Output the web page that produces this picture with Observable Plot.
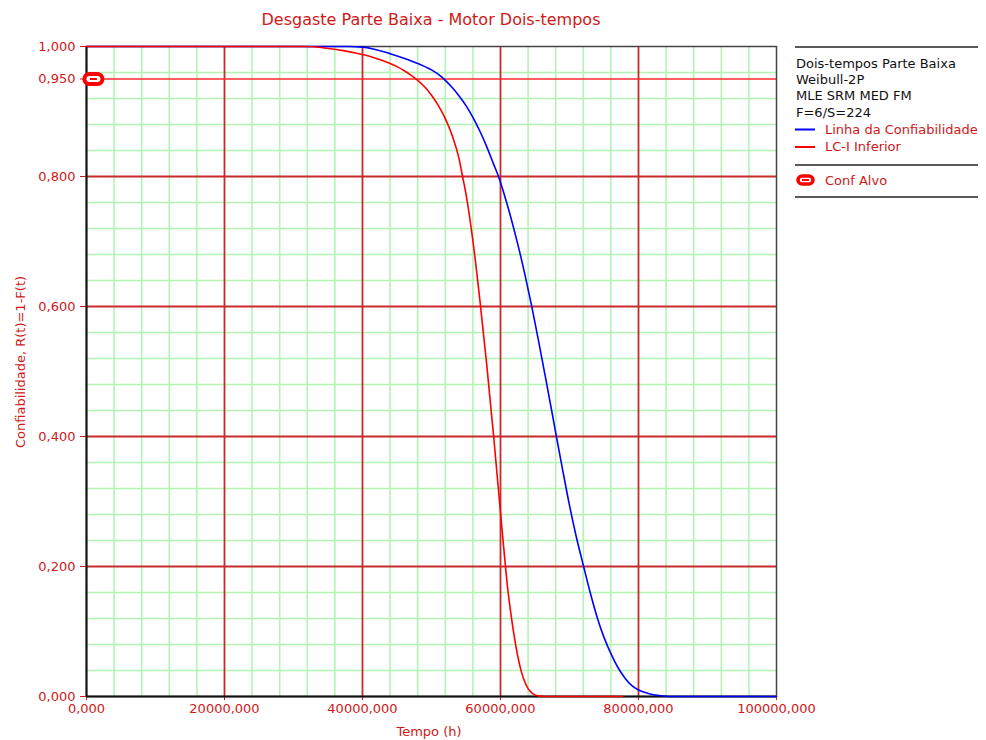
<!DOCTYPE html>
<html><head><meta charset="utf-8">
<script src="https://cdn.jsdelivr.net/npm/d3@7"></script>
<script src="https://cdn.jsdelivr.net/npm/@observablehq/plot@0.6"></script>
<style>
body{margin:0;background:#fff;}
#wrap{position:relative;width:986px;height:740px;font-family:"DejaVu Sans",sans-serif;}
#wrap svg{position:absolute;left:0;top:0;}
#overlay{pointer-events:none;}
</style></head><body><div id="wrap"></div>
<script>
// ---- data ----
const chartTitle = "Desgaste Parte Baixa - Motor Dois-tempos";
const xLabel = "Tempo (h)";
const yLabel = "Confiabilidade, R(t)=1-F(t)";
const legendInfo = ["Dois-tempos Parte Baixa", "Weibull-2P", "MLE SRM MED FM", "F=6/S=224"];
const seriesNames = ["Linha da Confiabilidade", "LC-I Inferior", "Conf Alvo"];

const xTicks = [0, 20000, 40000, 60000, 80000, 100000];
const yTicks = [0, 0.2, 0.4, 0.6, 0.8, 1.0, 0.95];
const xMajor = [20000, 40000, 60000, 80000];
const yMajor = [0.2, 0.4, 0.6, 0.8];
const xMinor = [4000, 8000, 12000, 16000, 24000, 28000, 32000, 36000, 44000, 48000, 52000, 56000,
  64000, 68000, 72000, 76000, 84000, 88000, 92000, 96000];
const yMinor = [0.04, 0.08, 0.12, 0.16, 0.24, 0.28, 0.32, 0.36, 0.44, 0.48, 0.52, 0.56,
  0.64, 0.68, 0.72, 0.76, 0.84, 0.88, 0.92, 0.96];

// Linha da Confiabilidade (blue)
const blueTime = [0, 38000, 40000, 42000, 44000, 46000, 48000, 50000, 51000, 52000, 53000, 54000,
  55000, 56000, 57000, 58000, 59000, 59710, 60500, 61500, 62500, 63500, 64490, 65500, 66500, 67500,
  68100, 69000, 70000, 71000, 72000, 73000, 74000, 75000, 76000, 77000, 78000, 79000, 80000, 81000,
  82000, 83000, 84500, 100000];
const blueRel = [1, 1, 0.999, 0.995, 0.989, 0.982, 0.974, 0.964, 0.957, 0.948, 0.937, 0.924,
  0.909, 0.891, 0.870, 0.846, 0.819, 0.800, 0.774, 0.737, 0.696, 0.651, 0.602, 0.548, 0.492, 0.435,
  0.400, 0.349, 0.294, 0.245, 0.202, 0.160, 0.122, 0.091, 0.066, 0.045, 0.029, 0.017, 0.010, 0.006,
  0.003, 0.0015, 0, 0];

// LC-I Inferior (red)
const redTime = [0, 31000, 33000, 35000, 37000, 39000, 41000, 43000, 44000, 45000, 46000, 47000,
  48000, 49000, 50000, 51000, 52000, 53000, 54000, 54500, 55000, 56000, 57000, 58000, 59000, 60000,
  60720, 61000, 61500, 62000, 62500, 63000, 63500, 64000, 64500, 65000, 65500, 66500, 77680];
const redRel = [1, 1, 0.9995, 0.997, 0.994, 0.990, 0.985, 0.978, 0.974, 0.969, 0.963, 0.956,
  0.948, 0.938, 0.925, 0.909, 0.889, 0.863, 0.827, 0.800, 0.773, 0.701, 0.611, 0.511, 0.401, 0.283,
  0.200, 0.170, 0.128, 0.092, 0.062, 0.039, 0.023, 0.012, 0.006, 0.0025, 0.001, 0, 0];

const targetTime = [1000];
const targetRel = [0.95];

// ---- build ----
const blue = blueTime.map((t, i) => ({t, r: blueRel[i]}));
const red = redTime.map((t, i) => ({t, r: redRel[i]}));
const target = targetTime.map((t, i) => ({t, r: targetRel[i]}));

const fmt = v => d3.format(".3f")(v).replace(".", ",");
const RED_TXT = "#d01818";

const capsule = {draw(c) {
  c.moveTo(-4, -5); c.lineTo(4, -5);
  c.arc(4, 0, 5, -Math.PI / 2, Math.PI / 2);
  c.lineTo(-4, 5);
  c.arc(-4, 0, 5, Math.PI / 2, 3 * Math.PI / 2);
  c.closePath();
}};
const dash = {draw(c) { c.moveTo(-3.5, 0); c.lineTo(3.5, 0); }};

const chart = Plot.plot({
  width: 986, height: 740,
  marginLeft: 86, marginRight: 210, marginTop: 46, marginBottom: 44,
  style: {fontFamily: "DejaVu Sans, sans-serif", fontSize: "13px", background: "white"},
  x: {domain: [0, 100000]},
  y: {domain: [0, 1]},
  marks: [
    Plot.ruleX(xMinor, {stroke: "#b2f5b2", strokeWidth: 1.6}),
    Plot.ruleY(yMinor, {stroke: "#b2f5b2", strokeWidth: 1.6}),
    Plot.ruleX(xMajor, {stroke: "#c82a2a", strokeWidth: 1.8}),
    Plot.ruleY(yMajor, {stroke: "#c82a2a", strokeWidth: 1.8}),
    Plot.ruleY(targetRel, {stroke: "#ff2a2a", strokeWidth: 1.6}),
    Plot.frame({stroke: "#444", strokeWidth: 1.5}),
    Plot.axisX({ticks: xTicks, tickFormat: fmt, tickSize: 4, tickPadding: 3, color: RED_TXT, label: null}),
    Plot.axisY({ticks: yTicks, tickFormat: fmt, tickSize: 6, tickPadding: 5, color: RED_TXT, label: null}),
    Plot.ruleX([0], {stroke: "#111", strokeWidth: 2}),
    Plot.ruleY([0], {stroke: "#111", strokeWidth: 2}),
    Plot.line(blue, {x: "t", y: "r", stroke: "#0000ff", strokeWidth: 1.6, curve: "monotone-x"}),
    Plot.line(red, {x: "t", y: "r", stroke: "#ff0000", strokeWidth: 1.6, curve: "monotone-x"}),
    Plot.dot(target, {x: "t", y: "r", symbol: capsule, fill: "white", stroke: "#ff0000", strokeWidth: 4}),
    Plot.dot(target, {x: "t", y: "r", symbol: dash, fill: "none", stroke: "#ff0000", strokeWidth: 2})
  ]
});
const wrap = document.getElementById("wrap");
wrap.appendChild(chart);

// overlay: title, axis titles, legend
const ns = "http://www.w3.org/2000/svg";
const ov = document.createElementNS(ns, "svg");
ov.setAttribute("id", "overlay");
ov.setAttribute("width", 986); ov.setAttribute("height", 740);
ov.setAttribute("font-family", "DejaVu Sans, sans-serif");
function el(name, attrs, text) {
  const e = document.createElementNS(ns, name);
  for (const k in attrs) e.setAttribute(k, attrs[k]);
  if (text != null) e.textContent = text;
  ov.appendChild(e);
  return e;
}
el("text", {x: 431, y: 25, "text-anchor": "middle", "font-size": 16, fill: RED_TXT}, chartTitle);
el("text", {x: 429, y: 736, "text-anchor": "middle", "font-size": 13, fill: RED_TXT}, xLabel);
el("text", {x: 0, y: 0, "text-anchor": "middle", "font-size": 13, fill: RED_TXT,
  transform: "translate(25,362) rotate(-90)"}, yLabel);

const LX = 795, LX2 = 978;
[47, 165, 197].forEach(y => el("line", {x1: LX, x2: LX2, y1: y, y2: y, stroke: "#222", "stroke-width": 1.6}));
const infoY = [68, 84, 100, 117];
legendInfo.forEach((s, i) => el("text", {x: 796, y: infoY[i], "font-size": 13, fill: "#111"}, s));
el("line", {x1: 795, x2: 815, y1: 129.5, y2: 129.5, stroke: "#0000ff", "stroke-width": 2});
el("text", {x: 825, y: 134, "font-size": 13, fill: RED_TXT}, seriesNames[0]);
el("line", {x1: 795, x2: 815, y1: 147, y2: 147, stroke: "#ff0000", "stroke-width": 2});
el("text", {x: 825, y: 151, "font-size": 13, fill: RED_TXT}, seriesNames[1]);
el("rect", {x: 798, y: 176, width: 15, height: 8, rx: 4, fill: "white", stroke: "#ff0000", "stroke-width": 3.5});
el("line", {x1: 802, x2: 809, y1: 180, y2: 180, stroke: "#ff0000", "stroke-width": 2});
el("text", {x: 825, y: 185, "font-size": 13, fill: RED_TXT}, seriesNames[2]);
wrap.appendChild(ov);
</script></body></html>
